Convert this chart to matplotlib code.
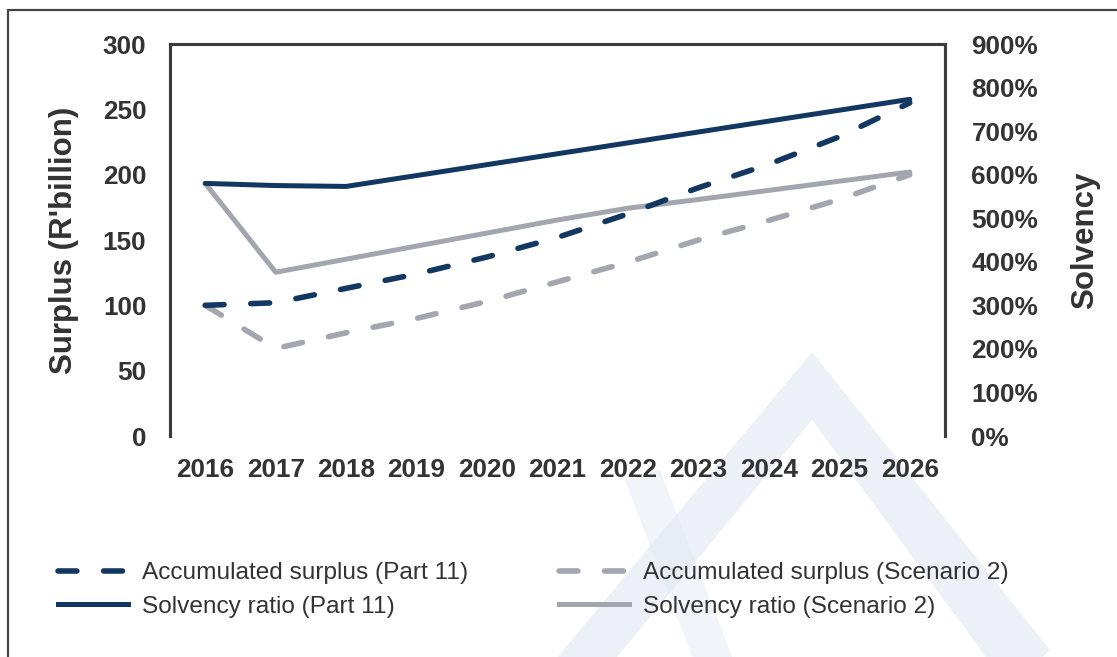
import matplotlib
matplotlib.use("Agg")
import matplotlib.pyplot as plt
from matplotlib.lines import Line2D
from matplotlib.patches import Rectangle, Polygon
from matplotlib.ticker import FuncFormatter, MultipleLocator

# Projection years
years = ['2016', '2017', '2018', '2019', '2020', '2021',
         '2022', '2023', '2024', '2025', '2026']

# Accumulated surplus (R'billion)
surplus_part11 = [100, 102, 113, 124, 137, 152, 170, 190, 208, 229, 255]
surplus_scen2 = [100, 67, 79, 90, 103, 118, 133, 150, 165, 181, 200]

# Solvency ratio (%)
solvency_part11 = [580, 575, 573, 598, 623, 648, 673, 698, 723, 748, 773]
solvency_scen2 = [580, 376, 406, 436, 466, 496, 523, 543, 564, 585, 606]

labels = ['Accumulated surplus (Part 11)', 'Solvency ratio (Part 11)',
          'Accumulated surplus (Scenario 2)', 'Solvency ratio (Scenario 2)']

NAVY = '#123862'
GREY = '#a3a6ae'
TEXT = '#333333'
SPINE = '#3c3c3c'
MARK = '#e2e9f2'

plt.rcParams['font.family'] = ['Liberation Sans', 'DejaVu Sans']

W, H = 1117, 657
fig = plt.figure(figsize=(W / 100, H / 100), dpi=100)
fig.patch.set_facecolor('white')


def fig_poly(points, alpha):
    """Polygon given in pixel coordinates (top-left origin)."""
    return Polygon([(px / W, 1 - py / H) for px, py in points], closed=True,
                   transform=fig.transFigure, facecolor=MARK,
                   edgecolor='none', alpha=alpha, zorder=0)


# faint background emblem: a chevron with an inner stroke
fig.add_artist(fig_poly([(530, 690), (812, 352), (1050, 650), (1010, 690),
                         (812, 420), (590, 690)], 0.6))
fig.add_artist(fig_poly([(625, 480), (660, 470), (745, 690), (705, 690)],
                        0.45))

# outer frame
fig.add_artist(Rectangle((8 / W, -0.05), 1.2, 1 - 10 / H + 0.05,
                         transform=fig.transFigure, fill=False,
                         edgecolor='#444444', linewidth=1.6, zorder=1))

ax = fig.add_axes([170 / W, (H - 436) / H, 775 / W, 392 / H])
ax2 = ax.twinx()
ax.patch.set_visible(False)
ax2.patch.set_visible(False)

x = list(range(len(years)))
dash_lw = 4.0
dash_pat = (3.4, 4.8)

ax2.plot(x, solvency_scen2, color=GREY, lw=3.6, solid_capstyle='round',
         solid_joinstyle='round')
ax2.plot(x, solvency_part11, color=NAVY, lw=3.6, solid_capstyle='round',
         solid_joinstyle='round')

ax.plot(x, surplus_scen2, color=GREY, lw=dash_lw, dashes=dash_pat,
        dash_capstyle='round', dash_joinstyle='round')
ax.plot(x, surplus_part11, color=NAVY, lw=dash_lw, dashes=dash_pat,
        dash_capstyle='round', dash_joinstyle='round')

# surplus lines drawn above the solvency lines
ax.set_zorder(ax2.get_zorder() + 1)

ax.set_xlim(-0.5, len(years) - 0.5)
ax.set_ylim(0, 300)
ax2.set_ylim(0, 900)
ax.yaxis.set_major_locator(MultipleLocator(50))
ax2.yaxis.set_major_locator(MultipleLocator(100))
ax2.yaxis.set_major_formatter(FuncFormatter(lambda v, p: f'{v:.0f}%'))
ax.set_xticks(x)
ax.set_xticklabels(years)

for a in (ax, ax2):
    a.spines['bottom'].set_visible(False)
    for s in ('left', 'right', 'top'):
        a.spines[s].set_color(SPINE)
        a.spines[s].set_linewidth(2.2)
    a.tick_params(length=0, labelsize=18.8, labelcolor=TEXT)
ax.tick_params(axis='y', pad=17)
ax2.tick_params(axis='y', pad=19)
ax.tick_params(axis='x', pad=16)
for lab in ax.get_xticklabels() + ax.get_yticklabels() + ax2.get_yticklabels():
    lab.set_fontweight('bold')

ax.set_ylabel("Surplus (R'billion)", fontsize=22.5, fontweight='bold',
              color=TEXT)
ax.yaxis.set_label_coords((79 - 170) / 775, 0.5)
ax2.set_ylabel('Solvency', fontsize=22.5, fontweight='bold', color=TEXT)
ax2.yaxis.set_label_coords((1070 - 170) / 775, 0.5)

handles = [
    Line2D([], [], color=NAVY, lw=dash_lw, dashes=dash_pat,
           dash_capstyle='round'),
    Line2D([], [], color=NAVY, lw=3.6),
    Line2D([], [], color=GREY, lw=dash_lw, dashes=dash_pat,
           dash_capstyle='round'),
    Line2D([], [], color=GREY, lw=3.6),
]
leg = fig.legend(handles, labels, loc='upper left',
                 bbox_to_anchor=(58 / W, 1 - 562 / H), ncol=2,
                 frameon=False, fontsize=17.6, handlelength=2.86,
                 handletextpad=0.58, columnspacing=3.72, labelspacing=0.47,
                 borderpad=0, borderaxespad=0)
for t in leg.get_texts():
    t.set_color(TEXT)

fig.savefig('out.png', dpi=100)
